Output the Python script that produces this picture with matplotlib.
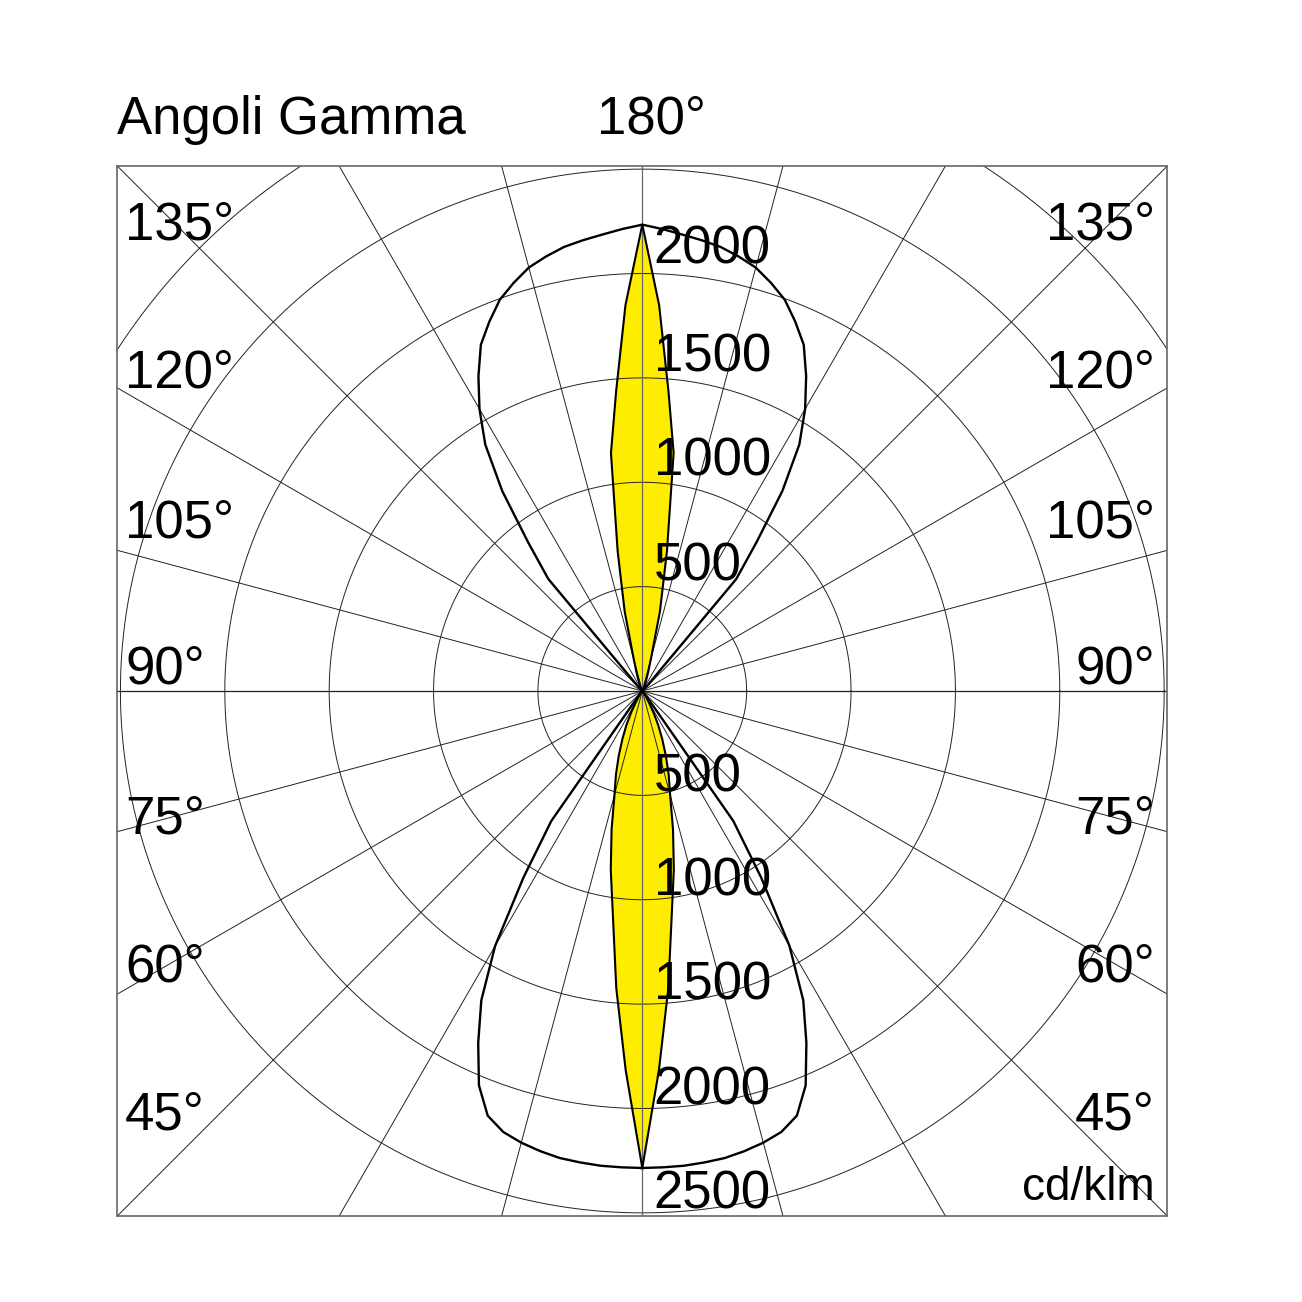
import numpy as np
import matplotlib
matplotlib.use("Agg")
import matplotlib.pyplot as plt

plt.rcParams['font.family'] = ['Liberation Sans', 'DejaVu Sans']

# gamma angles (0 = down, 180 = up), 2.5 deg steps
gamma = np.arange(0, 180.1, 2.5)

# C0-C180 plane (yellow, narrow beam), cd/klm
c0 = ([2285, 1820, 1430, 1080, 870, 680, 515, 420, 330, 250, 180, 115,
       60, 35, 15, 5]
      + [0] * 45
      + [5, 15, 30, 50, 90, 160, 390, 680, 1150, 1440, 1850, 2234])

# C90-C270 plane (black outline, wide beam), cd/klm
c90 = ([2285, 2284, 2283, 2278, 2272, 2258, 2240, 2215, 2165, 2045, 1860,
        1670, 1410, 1060, 760, 40]
       + [0] * 39
       + [40, 700, 900, 1170, 1400, 1560, 1700, 1830, 1915, 1995, 2050,
          2100, 2132, 2160, 2178, 2195, 2215, 2234])

rings = [500, 1000, 1500, 2000, 2500]
upper_ring = 3000  # only visible in the top corners
upper_labels = [500, 1000, 1500, 2000]
lower_labels = [500, 1000, 1500, 2000, 2500]
side_angles = [135, 120, 105, 90, 75, 60, 45]
side_baselines = [240, 388, 537, 684, 834, 982, 1130]  # pixel rows

W = 1302
LIM = 2515
FS = 38


def outline(values):
    g = np.radians(gamma)
    v = np.asarray(values, dtype=float)
    x = np.concatenate([v * np.sin(g), -(v * np.sin(g))[::-1]])
    y = np.concatenate([-v * np.cos(g), (-v * np.cos(g))[::-1]])
    return x, y


fig = plt.figure(figsize=(W / 100, W / 100), dpi=100)
ax = fig.add_axes([117.3 / W, 86 / W, 1050 / W, 1050 / W])
ax.set_xlim(-LIM, LIM)
ax.set_ylim(-LIM, LIM)
ax.set_aspect('equal')
ax.set_xticks([])
ax.set_yticks([])
for s in ax.spines.values():
    s.set_color('#666666')
    s.set_linewidth(1.2)

# yellow lobe first, grid over it
xy0 = outline(c0)
ax.fill(xy0[0], xy0[1], color='#FFED00', lw=0, zorder=1)

t = np.linspace(0, 2 * np.pi, 721)
for r in rings:
    ax.plot(r * np.cos(t), r * np.sin(t), color='#222222', lw=0.7, zorder=2)
th = np.linspace(0, np.pi, 361)
ax.plot(upper_ring * np.cos(th), upper_ring * np.sin(th), color='#222222',
        lw=0.7, zorder=2)

far = 4000
for a in range(15, 180, 15):
    ar = np.radians(a)
    for sgn in (1, -1):
        ax.plot([0, sgn * far * np.sin(ar)], [0, -far * np.cos(ar)],
                color='#222222', lw=0.7, zorder=2)
ax.plot([0, 0], [-LIM, LIM], color='#666666', lw=0.9, zorder=2)
ax.plot([-LIM, LIM], [0, 0], color='#222222', lw=0.9, zorder=2)

ax.plot(xy0[0], xy0[1], color='black', lw=1.5, zorder=3)
xy90 = outline(c90)
ax.plot(xy90[0], xy90[1], color='black', lw=1.7, zorder=3)

# value labels along the vertical axis
for v in upper_labels:
    off = 50 if v == 2000 else 30
    ax.text(54, v + off, str(v), fontsize=FS, ha='left', va='baseline',
            zorder=4, clip_on=False)
for v in lower_labels:
    ax.text(54, -v + 20, str(v), fontsize=FS, ha='left', va='baseline',
            zorder=4, clip_on=False)

# angle labels on both sides
for a, py in zip(side_angles, side_baselines):
    fig.text(125 / W, 1 - py / W, f'{a}°', fontsize=FS, ha='left',
             va='baseline')
    fig.text(1155 / W, 1 - py / W, f'{a}°', fontsize=FS, ha='right',
             va='baseline')

fig.text(117 / W, 1 - 134 / W, 'Angoli Gamma', fontsize=FS, ha='left',
         va='baseline')
fig.text(597 / W, 1 - 133 / W, '180°', fontsize=FS, ha='left', va='baseline')
fig.text(1155 / W, 1 - 1200 / W, 'cd/klm', fontsize=33, ha='right',
         va='baseline')

fig.savefig('out.png', dpi=100, facecolor='white')
